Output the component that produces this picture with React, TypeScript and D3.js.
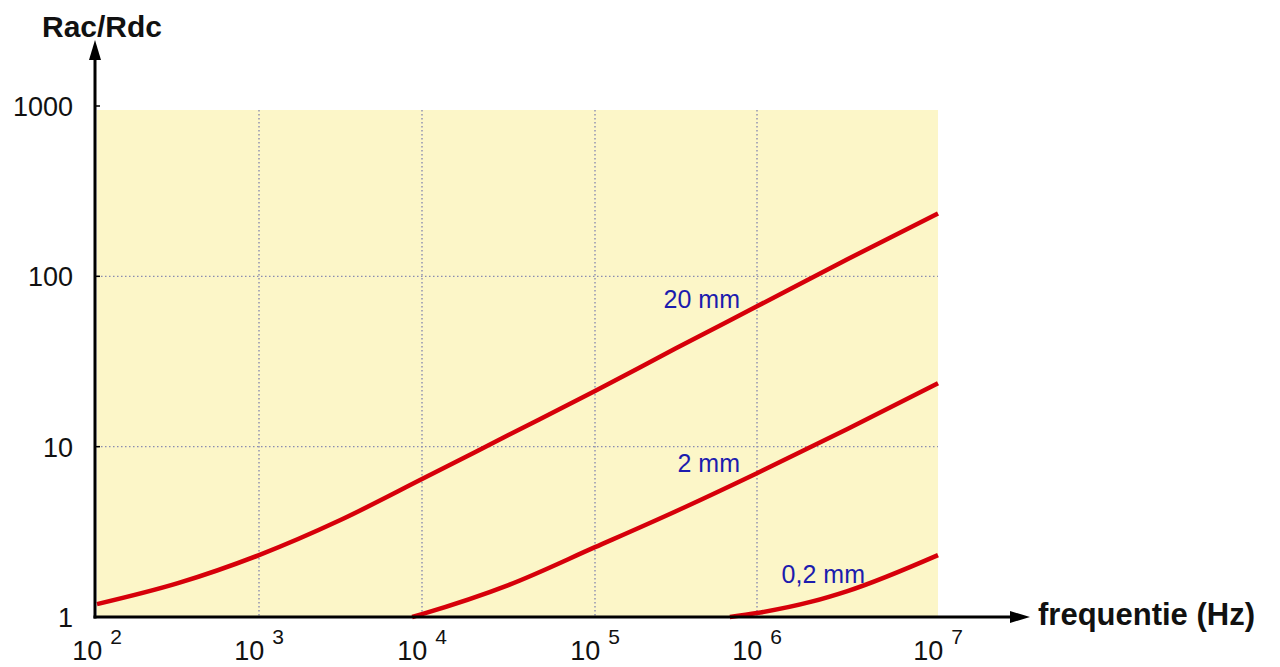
import { useEffect, useRef } from "react"
import * as d3 from "d3"

// decades on the frequency axis (Hz)
const decades = [1e2, 1e3, 1e4, 1e5, 1e6, 1e7]
const decadeExponents = ["2", "3", "4", "5", "6", "7"]
// Rac/Rdc ticks
const ratioTicks = [1, 10, 100, 1000]
const ratioTickLabels = ["1", "10", "100", "1000"]

// curves, [frequency, Rac/Rdc]
const wire20mm: [number, number][] = [
  [1e2, 1.19], [3.16e2, 1.58], [1e3, 2.31], [3.16e3, 3.71], [1e4, 6.45],
  [3.16e4, 11.7], [1e5, 21.2], [3.16e5, 37.8], [1e6, 66.7], [3.16e6, 126], [1e7, 234],
]
const wire2mm: [number, number][] = [
  [8.7e3, 1.0], [1e4, 1.04], [3.16e4, 1.54], [1e5, 2.57], [3.16e5, 4.18],
  [1e6, 6.99], [3.16e6, 12.7], [1e7, 23.6],
]
const wire02mm: [number, number][] = [
  [6.8e5, 1.0], [1e6, 1.055], [2e6, 1.23], [3.16e6, 1.42], [1e7, 2.31],
]

const seriesNames = ["20 mm", "2 mm", "0,2 mm"]
const seriesData = [wire20mm, wire2mm, wire02mm]
// where each label ends, [frequency, Rac/Rdc]
const labelAnchors: [number, number][] = [[7.85e5, 64.9], [7.85e5, 7.09], [3.95e6, 1.58]]

const width = 1280
const height = 667

const App = () => {
  const ref = useRef<SVGSVGElement>(null)

  useEffect(() => {
    const svg = d3.select(ref.current)
    svg.selectAll("*").remove()

    const font = "'Liberation Sans', Arial, Helvetica, sans-serif"

    // the original's decades are not quite evenly spaced, so a piecewise log scale
    const x = d3.scaleLog().domain(decades).range([97, 259, 422, 595, 757, 938])
    const y = d3.scaleLog().domain([1, 1000]).range([617, 106])

    const x0 = x(1e2)
    const x1 = x(1e7)
    const y0 = y(1)

    svg
      .append("rect")
      .attr("x", x0)
      .attr("y", y(1000) + 4)
      .attr("width", x1 - x0)
      .attr("height", y0 - y(1000) - 4)
      .attr("fill", "#fcf6c8")

    const grid = svg.append("g").attr("stroke", "#8a8cb0").attr("stroke-width", 1.4).attr("stroke-dasharray", "1.5,2.5")
    grid
      .selectAll("line.v")
      .data(decades.slice(1, -1))
      .join("line")
      .attr("class", "v")
      .attr("x1", (d) => x(d))
      .attr("x2", (d) => x(d))
      .attr("y1", y(1000) + 4)
      .attr("y2", y0)
    grid
      .selectAll("line.h")
      .data([10, 100])
      .join("line")
      .attr("class", "h")
      .attr("x1", x0)
      .attr("x2", x1)
      .attr("y1", (d) => y(d))
      .attr("y2", (d) => y(d))

    // curves
    const line = d3
      .line<[number, number]>()
      .x((d) => x(d[0]))
      .y((d) => y(d[1]))
      .curve(d3.curveMonotoneX)

    svg
      .append("g")
      .selectAll("path")
      .data(seriesData)
      .join("path")
      .attr("d", (d) => line(d))
      .attr("fill", "none")
      .attr("stroke", "#d6000a")
      .attr("stroke-width", 4.5)
      .attr("stroke-linecap", "butt")

    svg
      .append("g")
      .selectAll("text")
      .data(seriesNames)
      .join("text")
      .attr("x", (_, i) => x(labelAnchors[i][0]))
      .attr("y", (_, i) => y(labelAnchors[i][1]))
      .attr("text-anchor", "end")
      .attr("font-family", font)
      .attr("font-size", 25)
      .attr("fill", "#1c1cae")
      .text((d) => d)

    // axes with arrows
    const ax = x0 - 2
    svg
      .append("line")
      .attr("x1", ax)
      .attr("x2", ax)
      .attr("y1", y0 + 1.5)
      .attr("y2", 56)
      .attr("stroke", "#000")
      .attr("stroke-width", 3)
    svg
      .append("path")
      .attr("d", `M${ax},40 L${ax - 6},60 L${ax + 6},60 Z`)
      .attr("fill", "#000")
    svg
      .append("line")
      .attr("x1", ax - 1.5)
      .attr("x2", 1016)
      .attr("y1", y0)
      .attr("y2", y0)
      .attr("stroke", "#000")
      .attr("stroke-width", 3)
    svg
      .append("path")
      .attr("d", `M1030,${y0} L1010,${y0 - 6} L1010,${y0 + 6} Z`)
      .attr("fill", "#000")

    // small y ticks
    svg
      .append("g")
      .selectAll("line")
      .data(ratioTicks)
      .join("line")
      .attr("x1", ax)
      .attr("x2", ax + 5)
      .attr("y1", (d) => y(d))
      .attr("y2", (d) => y(d))
      .attr("stroke", "#000")
      .attr("stroke-width", 1.5)

    svg
      .append("g")
      .selectAll("text")
      .data(ratioTicks)
      .join("text")
      .attr("x", 73)
      .attr("y", (d) => y(d) + 10)
      .attr("text-anchor", "end")
      .attr("font-family", font)
      .attr("font-size", 27)
      .attr("fill", "#111")
      .text((_, i) => ratioTickLabels[i])

    const xl = svg
      .append("g")
      .selectAll("text")
      .data(decades)
      .join("text")
      .attr("x", (d) => x(d))
      .attr("y", 660)
      .attr("text-anchor", "middle")
      .attr("font-family", font)
      .attr("font-size", 27)
      .attr("fill", "#111")
    xl.append("tspan").text("10")
    xl.append("tspan")
      .attr("dx", 8)
      .attr("dy", -16)
      .attr("font-size", 21)
      .text((_, i) => decadeExponents[i])

    svg
      .append("text")
      .attr("x", 102)
      .attr("y", 37)
      .attr("text-anchor", "middle")
      .attr("font-family", font)
      .attr("font-weight", "bold")
      .attr("font-size", 30)
      .attr("fill", "#111")
      .text("Rac/Rdc")

    svg
      .append("text")
      .attr("x", 1038)
      .attr("y", 625)
      .attr("font-family", font)
      .attr("font-weight", "bold")
      .attr("font-size", 31)
      .attr("fill", "#111")
      .text("frequentie (Hz)")
  }, [])

  return (
    <svg
      ref={ref}
      width={width}
      height={height}
      viewBox={`0 0 ${width} ${height}`}
      style={{ position: "absolute", left: 0, top: 0, background: "#fff" }}
    />
  )
}

export default App
